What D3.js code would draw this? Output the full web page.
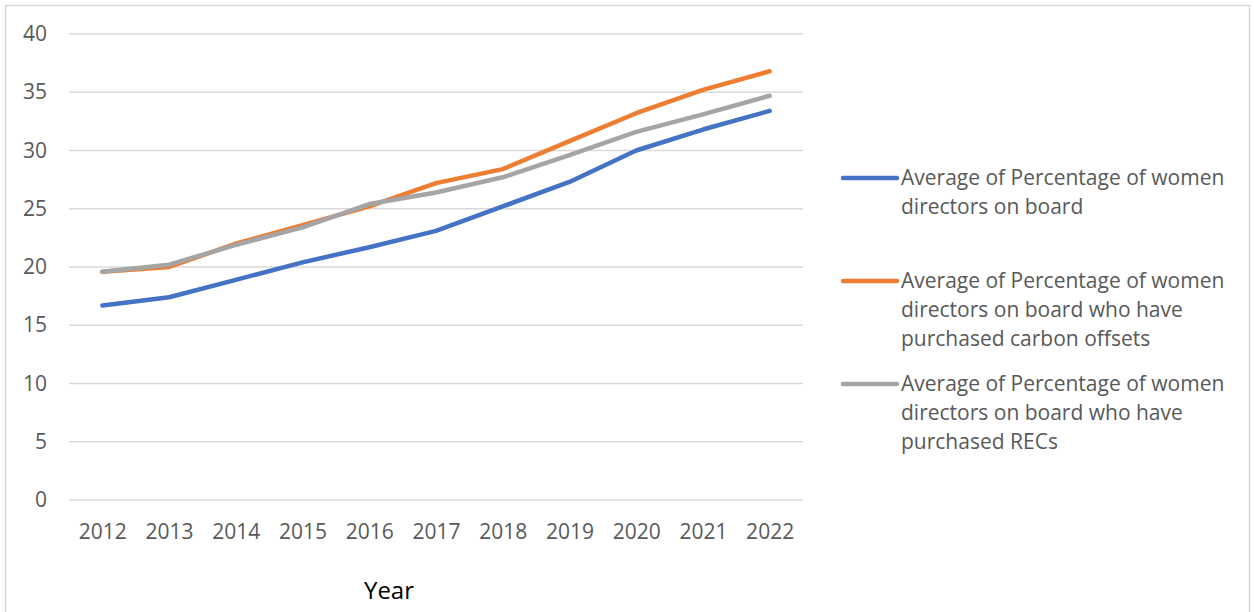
<!DOCTYPE html>
<html>
<head>
<meta charset="utf-8">
<script src="https://cdn.jsdelivr.net/npm/d3@7"></script>
<style>
  body { margin: 0; background: #fff; }
  svg { display: block; font-family: "Open Sans", sans-serif; }
</style>
</head>
<body>
<svg id="main" width="1254" height="612"></svg>
<script>
const years = ['2012', '2013', '2014', '2015', '2016', '2017', '2018', '2019', '2020', '2021', '2022'];
const allDirectors = [16.7, 17.4, 18.9, 20.4, 21.7, 23.1, 25.2, 27.3, 30.0, 31.8, 33.4];
const carbonOffsets = [19.6, 20.0, 22.0, 23.6, 25.2, 27.2, 28.4, 30.8, 33.2, 35.2, 36.8];
const recs = [19.6, 20.2, 21.9, 23.4, 25.4, 26.4, 27.7, 29.6, 31.6, 33.1, 34.7];
const yTicks = [0, 5, 10, 15, 20, 25, 30, 35, 40];
const seriesNames = [
    ['Average of Percentage of women', 'directors on board'],
    ['Average of Percentage of women', 'directors on board who have', 'purchased carbon offsets'],
    ['Average of Percentage of women', 'directors on board who have', 'purchased RECs']
];
const colors = ['#4472C4', '#ED7D31', '#A5A5A5'];

const series = [allDirectors, carbonOffsets, recs].map((values, i) => ({
    name: seriesNames[i],
    color: colors[i],
    values: values.map((v, j) => ({ year: years[j], value: v }))
}));

const svg = d3.select('#main');

// chart border
svg.append('rect')
    .attr('x', 5.5).attr('y', 5.5)
    .attr('width', 1244).attr('height', 640)
    .attr('fill', 'none')
    .attr('stroke', '#d9d9d9')
    .attr('stroke-width', 1.5);

const plot = { left: 69, right: 803, top: 34, bottom: 500 };

const x = d3.scalePoint()
    .domain(years)
    .range([plot.left, plot.right])
    .padding(0.5);

const y = d3.scaleLinear()
    .domain([0, 40])
    .range([plot.bottom, plot.top]);

// gridlines
svg.append('g')
    .selectAll('line')
    .data(yTicks)
    .join('line')
    .attr('x1', plot.left)
    .attr('x2', plot.right)
    .attr('y1', d => y(d))
    .attr('y2', d => y(d))
    .attr('stroke', '#d9d9d9')
    .attr('stroke-width', 1.5);

// y axis labels
const yAxis = svg.append('g')
    .attr('transform', `translate(${plot.left - 22},0)`)
    .call(d3.axisLeft(y).tickValues(yTicks).tickSize(0).tickPadding(0));
yAxis.select('.domain').remove();
yAxis.selectAll('text')
    .attr('font-size', 21)
    .attr('font-family', '"Open Sans", sans-serif')
    .attr('fill', '#595959');

// x axis labels
const xAxis = svg.append('g')
    .attr('transform', `translate(0,${plot.bottom + 24})`)
    .call(d3.axisBottom(x).tickSize(0).tickPadding(0));
xAxis.select('.domain').remove();
xAxis.selectAll('text')
    .attr('font-size', 21)
    .attr('font-family', '"Open Sans", sans-serif')
    .attr('fill', '#595959');

svg.append('text')
    .attr('x', 389)
    .attr('y', 599)
    .attr('text-anchor', 'middle')
    .attr('font-size', 24)
    .attr('fill', '#000')
    .text('Year');

// lines
const line = d3.line()
    .x(d => x(d.year))
    .y(d => y(d.value));

svg.append('g')
    .selectAll('path')
    .data(series)
    .join('path')
    .attr('d', d => line(d.values))
    .attr('fill', 'none')
    .attr('stroke', d => d.color)
    .attr('stroke-width', 4.5)
    .attr('stroke-linecap', 'round')
    .attr('stroke-linejoin', 'round');

// legend
const legendTop = [178, 281, 384];
const legend = svg.append('g')
    .selectAll('g')
    .data(series)
    .join('g')
    .attr('transform', (d, i) => `translate(843,${legendTop[i]})`);

legend.append('line')
    .attr('x1', 0).attr('x2', 54)
    .attr('y1', 0).attr('y2', 0)
    .attr('stroke', d => d.color)
    .attr('stroke-width', 4.5)
    .attr('stroke-linecap', 'round');

legend.append('text')
    .attr('font-size', 21)
    .attr('fill', '#595959')
    .selectAll('tspan')
    .data(d => d.name)
    .join('tspan')
    .attr('x', 58)
    .attr('y', (d, i) => 7 + i * 29)
    .text(d => d);
</script>
</body>
</html>
